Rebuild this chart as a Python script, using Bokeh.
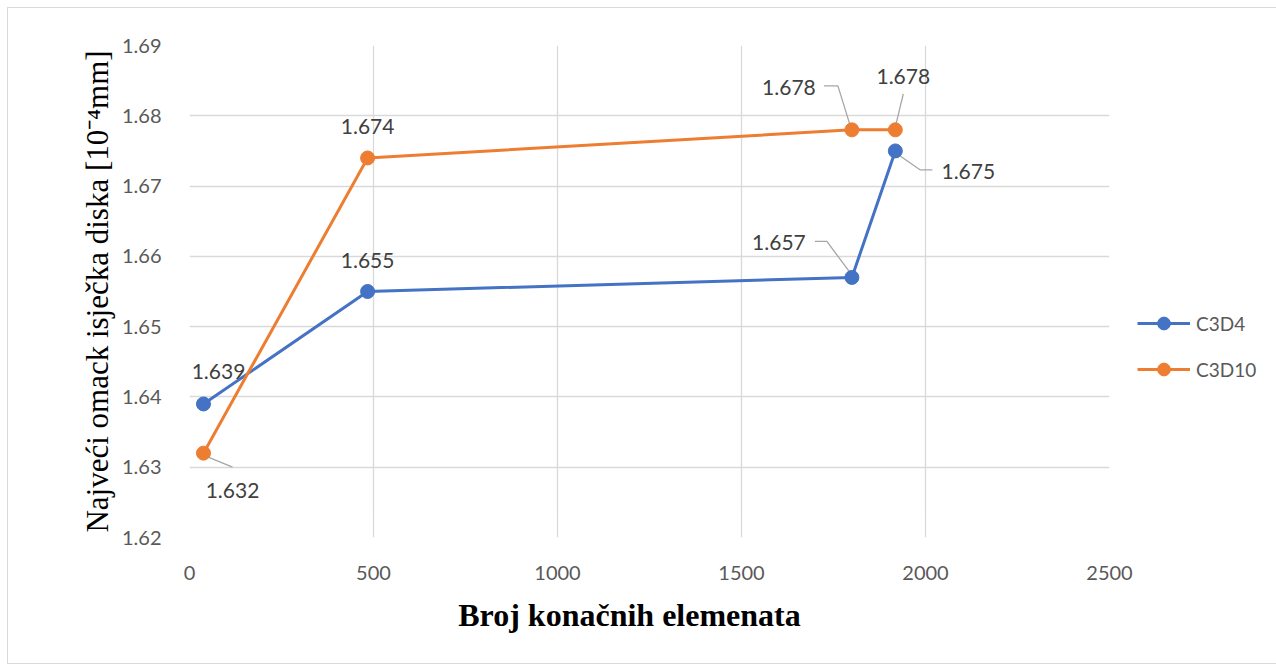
from bokeh.plotting import figure
from bokeh.models import (ColumnDataSource, FixedTicker, Legend, LegendItem,
                          CustomJSTickFormatter, Range1d)
from bokeh.core.properties import value
from bokeh.embed import file_html
from bokeh.resources import INLINE

# ---- data ----
series_names = ["C3D4", "C3D10"]
x_c3d4 = [38, 484, 1800, 1918]
y_c3d4 = [1.639, 1.655, 1.657, 1.675]
x_c3d10 = [38, 484, 1800, 1918]
y_c3d10 = [1.632, 1.674, 1.678, 1.678]
x_ticks = [0, 500, 1000, 1500, 2000, 2500]
y_ticks = [1.62, 1.63, 1.64, 1.65, 1.66, 1.67, 1.68, 1.69]
x_title = "Broj konačnih elemenata"
y_title = "Najveći omack isječka diska [10⁻⁴mm]"

# ---- layout / style ----
BLUE = "#4472C4"
ORANGE = "#ED7D31"
FRAME_W, FRAME_H = 920, 492
X0, X1 = 0, 2500
Y0, Y1 = 1.62, 1.69
px_x = (X1 - X0) / FRAME_W
px_y = (Y1 - Y0) / FRAME_H

# label offsets in screen pixels (dx right, dy down) relative to point
lbl_off_c3d4 = [(15, -32), (0, -31), (-73, -35), (73, 21)]
lbl_off_c3d10 = [(29, 37), (0, -31), (-63, -42), (8, -53)]
# leader lines in screen pixels relative to point (None = no leader)
lead_c3d4 = [None, None, [(-37, -36), (-25, -36), (-2, -5)], [(2, 3), (25, 19), (37, 19)]]
lead_c3d10 = [[(0, 2), (29, 14)], None, [(-28, -44), (-14, -44), (-1, -2)], [(8, -36), (0, -3)]]

W, H = 1260, 655
LEFT, TOP = 181, 37
p = figure(width=W, height=H, output_backend="svg", toolbar_location=None,
           x_range=Range1d(X0, X1), y_range=Range1d(Y0, Y1),
           min_border_left=LEFT, min_border_top=TOP,
           min_border_right=W - LEFT - FRAME_W, min_border_bottom=H - TOP - FRAME_H)
p.frame_width = FRAME_W
p.frame_height = FRAME_H
p.margin = (8, 8, 8, 8)
p.styles = {"outline": "1px solid #d9d9d9"}
p.outline_line_color = None
p.background_fill_color = "white"
p.border_fill_color = "white"

for ax in (p.xaxis[0], p.yaxis[0]):
    ax.axis_line_color = None
    ax.major_tick_line_color = None
    ax.minor_tick_line_color = None
    ax.major_label_text_font = "Lato"
    ax.major_label_text_font_size = "20px"
    ax.major_label_text_color = "#595959"

p.xaxis.ticker = FixedTicker(ticks=x_ticks)
p.yaxis.ticker = FixedTicker(ticks=y_ticks)
p.yaxis.formatter = CustomJSTickFormatter(code="return tick.toFixed(2);")
p.xaxis.major_label_standoff = 22
p.yaxis.major_label_standoff = 22

p.xaxis.axis_label = x_title + "\u00a0\u00a0\u00a0\u00a0\u00a0"
p.xaxis.axis_label_text_font = "Liberation Serif"
p.xaxis.axis_label_text_font_style = "bold"
p.xaxis.axis_label_text_font_size = "32px"
p.xaxis.axis_label_text_color = "black"
p.xaxis.axis_label_standoff = 14

p.yaxis.axis_label = y_title
p.yaxis.axis_label_text_font = "Liberation Serif"
p.yaxis.axis_label_text_font_style = "normal"
p.yaxis.axis_label_text_font_size = "31px"
p.yaxis.axis_label_text_color = "black"
p.yaxis.axis_label_standoff = 4

p.xgrid.grid_line_color = "#d9d9d9"
p.ygrid.grid_line_color = "#d9d9d9"
p.xgrid.grid_line_width = 1.3
p.ygrid.grid_line_width = 1.3

items = []
for name, xs, ys, col, offs, leads in [
        (series_names[0], x_c3d4, y_c3d4, BLUE, lbl_off_c3d4, lead_c3d4),
        (series_names[1], x_c3d10, y_c3d10, ORANGE, lbl_off_c3d10, lead_c3d10)]:
    lx, ly = [], []
    for xv, yv, ld in zip(xs, ys, leads):
        if ld is None:
            continue
        lx.append([xv + dx * px_x for dx, dy in ld])
        ly.append([yv - dy * px_y for dx, dy in ld])
    if lx:
        p.multi_line(lx, ly, line_color="#a6a6a6", line_width=1.3)
    src = ColumnDataSource(dict(x=xs, y=ys, t=[f"{v:.3f}" for v in ys],
                                xo=[o[0] for o in offs], yo=[o[1] for o in offs]))
    r1 = p.line("x", "y", source=src, line_color=col, line_width=3)
    r2 = p.scatter("x", "y", source=src, size=14, fill_color=col, line_color=col)
    p.text("x", "y", text="t", source=src, x_offset="xo", y_offset="yo",
           text_align="center", text_baseline="middle",
           text_font=value("Lato"), text_font_size="21px", text_color="#404040")
    items.append(LegendItem(label=name, renderers=[r1, r2]))

legend = Legend(items=items, location=(28, 152), orientation="vertical",
                border_line_color=None, background_fill_alpha=0,
                label_text_font="Lato", label_text_font_size="19px",
                label_text_color="#595959", glyph_width=53, glyph_height=32,
                spacing=14, padding=0, margin=0, label_standoff=6)
p.add_layout(legend, "right")

open("out.html", "w").write(file_html(p, INLINE))
